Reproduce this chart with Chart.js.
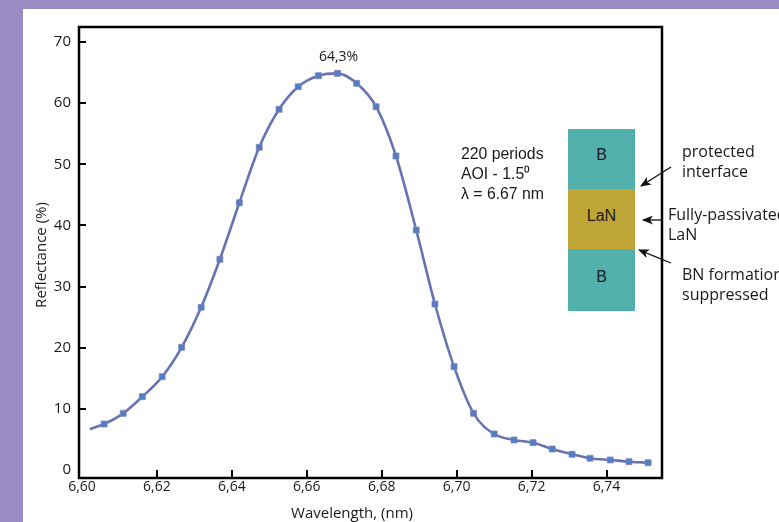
<!DOCTYPE html>
<html>
<head>
<meta charset="utf-8">
<script src="https://cdn.jsdelivr.net/npm/chart.js@4.4.1/dist/chart.umd.min.js"></script>
<style>
  body { margin: 0; width: 779px; height: 522px; overflow: hidden; position: relative; background: #9b8cc5; }
  #panel { position: absolute; left: 23px; top: 9px; width: 756px; height: 513px; background: #fff; }
  #wrap { position: absolute; left: 0; top: 0; width: 779px; height: 522px; }
  .note { position: absolute; color: #1a1a1a; white-space: nowrap; }
  .arial { font-family: "Liberation Sans", Arial, sans-serif; }
  .open { font-family: "Open Sans", sans-serif; font-size: 16px; line-height: 19.5px; }
  .layer { position: absolute; left: 568px; width: 67px; }
</style>
</head>
<body>
<div id="panel"></div>
<div id="wrap"><canvas id="chart" width="779" height="522"></canvas></div>

<!-- stack sketch on the right -->
<div class="note arial" style="left:461px; top:144px; font-size:15.8px; line-height:20px;">220 periods<br>AOI - 1.5⁰<br>λ = 6.67 nm</div>
<div class="layer" style="top:129px; height:60px; background:#53b1ad;"></div>
<div class="layer" style="top:189px; height:60px; background:#bea535;"></div>
<div class="layer" style="top:249px; height:62px; background:#53b1ad;"></div>
<div class="note arial" style="left:568px; width:67px; text-align:center; top:147px; font-size:16px; line-height:16px;">B</div>
<div class="note arial" style="left:568px; width:67px; text-align:center; top:208px; font-size:16px; line-height:16px;">LaN</div>
<div class="note arial" style="left:568px; width:67px; text-align:center; top:269px; font-size:16px; line-height:16px;">B</div>
<div class="note open" style="left:682px; top:142px;">protected<br>interface</div>
<div class="note open" style="left:668px; top:205px;">Fully-passivated<br>LaN</div>
<div class="note open" style="left:682px; top:265px;">BN formation<br>suppressed</div>
<svg width="779" height="522" style="position:absolute; left:0; top:0;">
  <defs>
    <marker id="ah" markerWidth="11" markerHeight="9" refX="10" refY="4.5" orient="auto" markerUnits="userSpaceOnUse">
      <path d="M0,0 L11,4.5 L0,9 L3,4.5 z" fill="#111"/>
    </marker>
  </defs>
  <line x1="671" y1="167" x2="641" y2="186" stroke="#111" stroke-width="1.3" marker-end="url(#ah)"/>
  <line x1="662" y1="220" x2="643" y2="220" stroke="#111" stroke-width="1.3" marker-end="url(#ah)"/>
  <line x1="671" y1="263" x2="639" y2="250" stroke="#111" stroke-width="1.3" marker-end="url(#ah)"/>
</svg>

<script>
// first value is where the curve starts, without a marker
const wavelength = [6.6021, 6.6059, 6.6110, 6.6161, 6.6214, 6.6266, 6.6318, 6.6368, 6.6420, 6.6473,
  6.6526, 6.6577, 6.6631, 6.6682, 6.6733, 6.6785, 6.6838, 6.6892, 6.6942, 6.6993,
  6.7045, 6.7100, 6.7153, 6.7204, 6.7255, 6.7308, 6.7356, 6.7410, 6.7460, 6.7511];
const reflectance = [6.7, 7.52, 9.27, 11.99, 15.26, 20.07, 26.61, 34.46, 43.72, 52.78,
  59.0, 62.69, 64.49, 64.88, 63.25, 59.42, 51.36, 39.25, 27.15, 16.90,
  9.27, 5.89, 4.91, 4.47, 3.43, 2.57, 1.92, 1.64, 1.36, 1.19];
const xTicks = [6.60, 6.62, 6.64, 6.66, 6.68, 6.70, 6.72, 6.74];
const xTickLabels = ["6,60", "6,62", "6,64", "6,66", "6,68", "6,70", "6,72", "6,74"];
const yTicks = [0, 10, 20, 30, 40, 50, 60, 70];
const peakLabel = "64,3%";
const xTitle = "Wavelength, (nm)";
const yTitle = "Reflectance (%)";

Chart.defaults.font.family = '"Open Sans", sans-serif';
Chart.defaults.color = "#1a1a1a";

// box round the plot, inward tick marks, peak label and axis titles
const framePlugin = {
  id: "frame",
  afterDraw(chart) {
    const ctx = chart.ctx, a = chart.chartArea;
    const x = chart.scales.x, y = chart.scales.y;
    ctx.save();
    ctx.strokeStyle = "#000";
    ctx.lineWidth = 2.5;
    ctx.strokeRect(a.left, a.top, a.right - a.left, a.bottom - a.top);
    ctx.lineWidth = 2;
    yTicks.forEach(function(v) {
      if (v === 0) return;
      var py = Math.round(y.getPixelForValue(v));
      ctx.beginPath(); ctx.moveTo(a.left, py); ctx.lineTo(a.left + 7, py); ctx.stroke();
    });
    xTicks.forEach(function(v, i) {
      if (i === 0) return;
      var px = Math.round(x.getPixelForValue(v));
      ctx.beginPath(); ctx.moveTo(px, a.bottom); ctx.lineTo(px, a.bottom - 8); ctx.stroke();
    });
    var iMax = reflectance.indexOf(Math.max.apply(null, reflectance));
    var pt = chart.getDatasetMeta(0).data[iMax];
    ctx.fillStyle = "#1a1a1a";
    ctx.textAlign = "center";
    ctx.textBaseline = "middle";
    ctx.font = '14px "Open Sans"';
    ctx.fillText(peakLabel, pt.x + 1, pt.y - 16);
    ctx.font = '15px "Open Sans"';
    ctx.fillText(xTitle, 352, 514);
    ctx.translate(42, 255);
    ctx.rotate(-Math.PI / 2);
    ctx.fillText(yTitle, 0, 0);
    ctx.restore();
  }
};

new Chart(document.getElementById("chart"), {
  type: "line",
  data: {
    datasets: [{
      data: wavelength.map(function(w, i) { return { x: w, y: reflectance[i] }; }),
      borderColor: "#6674b3",
      borderWidth: 2.6,
      cubicInterpolationMode: "monotone",
      pointStyle: "rect",
      pointRadius: function(c) { return c.dataIndex === 0 ? 0 : 4.2; },
      pointBackgroundColor: "#4b7fc6",
      pointBorderColor: "#8a7fb8",
      pointBorderWidth: 0.8
    }]
  },
  options: {
    responsive: false,
    animation: false,
    events: [],
    layout: { padding: { left: 0, top: 27, right: 117, bottom: 0 } },
    plugins: { legend: { display: false }, tooltip: { enabled: false } },
    scales: {
      x: {
        type: "linear",
        min: 6.5992,
        max: 6.7548,
        afterBuildTicks: function(s) { s.ticks = xTicks.map(function(v) { return { value: v }; }); },
        afterFit: function(s) { s.height = 44; },
        grid: { display: false, drawTicks: false },
        border: { display: false },
        ticks: {
          padding: 1,
          maxRotation: 0,
          autoSkip: false,
          font: { size: 14 },
          callback: function(v, i) { return xTickLabels[i]; }
        }
      },
      y: {
        min: -1.31,
        max: 72.46,
        afterBuildTicks: function(s) { s.ticks = yTicks.map(function(v) { return { value: v }; }); },
        afterFit: function(s) { s.width = 79; },
        grid: { display: false, drawTicks: false },
        border: { display: false },
        ticks: { padding: 8, font: { size: 15 } }
      }
    }
  },
  plugins: [framePlugin]
});
</script>
</body>
</html>
